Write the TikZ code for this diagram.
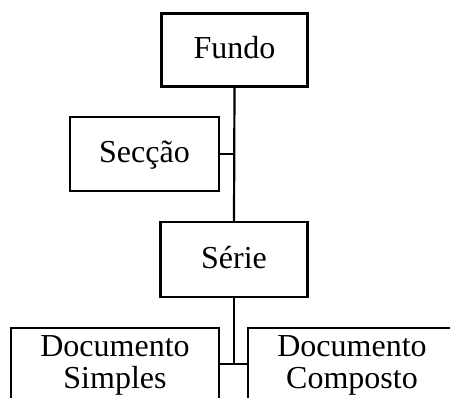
\documentclass[tikz,border=0pt]{standalone}
\usepackage{fontspec}
\setmainfont{Liberation Serif}
\begin{document}
\begin{tikzpicture}[x=1pt,y=1pt,
  box/.style={draw=black, line width=2.2pt, rectangle, inner sep=0pt,
    font=\fontsize{32}{32}\selectfont, text height=20pt, text depth=2pt},
  twoline/.style={box, align=center, text height=52pt, text depth=4pt},
  conn/.style={line width=2.2pt}]
\useasboundingbox (0,0) rectangle (450,-398);
\clip (0,0) rectangle (450,-398);
\node[box, minimum width=146pt, minimum height=73pt] (fundo) at (234.5,-50) {Fundo};
\node[box, minimum width=149pt, minimum height=74pt] (seccao) at (144.5,-154) {Secção};
\node[box, minimum width=147pt, minimum height=75pt] (serie) at (234,-259.5) {Série};
\node[twoline, minimum width=208pt, minimum height=72pt] (docs) at (115,-364) {Documento\\Simples};
\node[twoline, minimum width=208pt, minimum height=72pt] (docc) at (352,-364) {Documento\\Composto};
\draw[conn] (fundo.south) -- (serie.north);
\draw[conn] (seccao.east) -- (seccao.east -| fundo.south);
\draw[conn] (serie.south) -- (serie.south |- docs.east);
\draw[conn] (docs.east) -- (docc.west);
\end{tikzpicture}
\end{document}
